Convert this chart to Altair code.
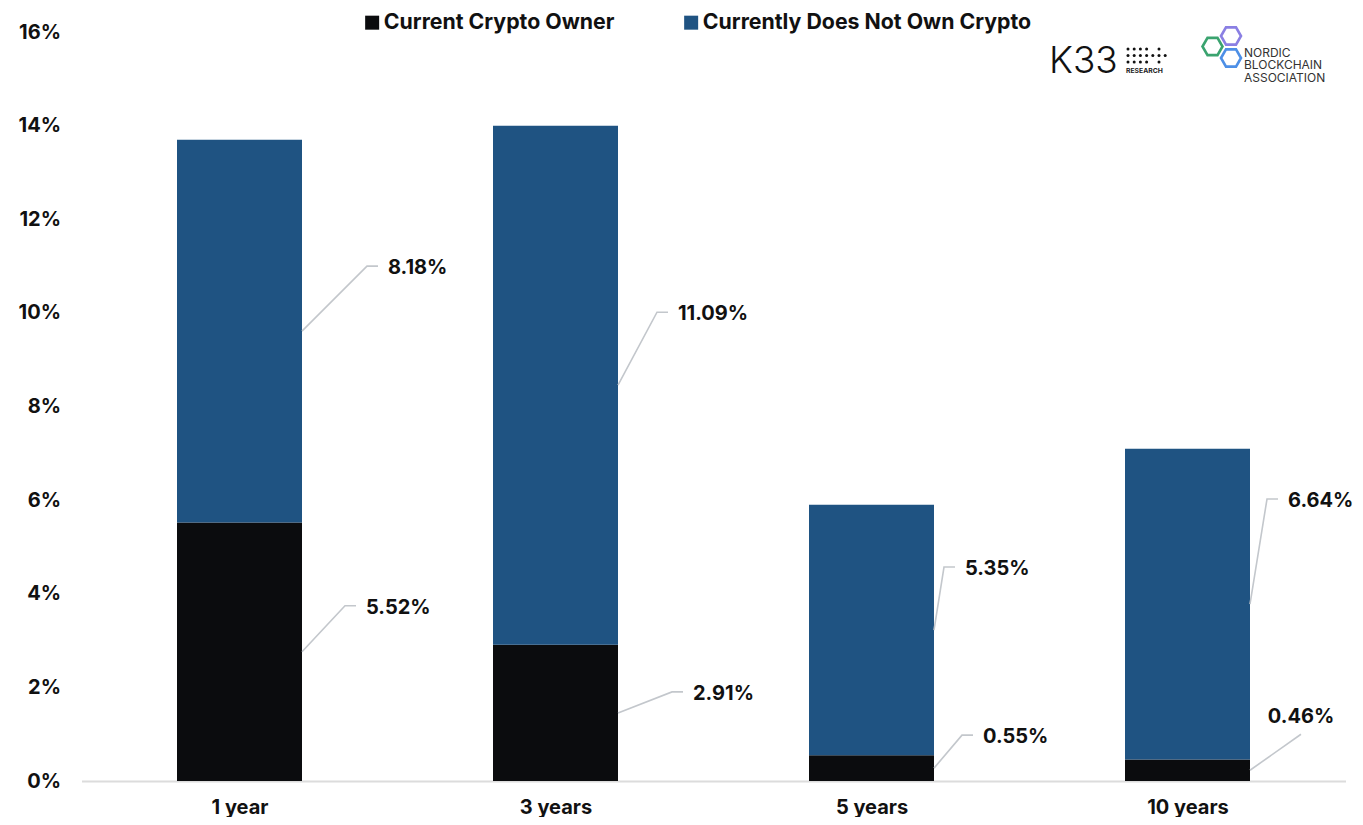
import json
import altair as alt
import pandas as pd

# ---------------- data ----------------
categories = ["1 year", "3 years", "5 years", "10 years"]
series_names = ["Current Crypto Owner", "Currently Does Not Own Crypto"]
owner = [5.52, 2.91, 0.55, 0.46]
non_owner = [8.18, 11.09, 5.35, 6.64]
y_ticks = [0, 2, 4, 6, 8, 10, 12, 14, 16]

# ---------------- style ----------------
W, H = 1264, 749
Y_MAX = 16
PX_X = W / len(categories)      # px per category index unit
PX_Y = H / Y_MAX                # px per percent
BAR_PX = 125
HALF = BAR_PX / 2 / PX_X
FONT = "Inter"
TXT = "#111111"
BLACK = "#0b0c0e"
BLUE = "#1f5382"
LEADER = "#c3c7cc"
# leader elbow offsets (px, from bar's right edge at segment middle)
owner_elbow = [(43, -46), (54, -21), (28, -33), (51, -36)]
non_owner_elbow = [(65, -65), (39, -73), (10, -63), (17, -105)]
owner_label_above = [False, False, False, True]
HOOK = 11
GAP = 10

# ---------------- tables ----------------
bar_rows, line_rows, label_rows = [], [], []
for i, cat in enumerate(categories):
    segs = [
        (series_names[0], 0.0, owner[i], owner_elbow[i], owner_label_above[i]),
        (series_names[1], owner[i], owner[i] + non_owner[i], non_owner_elbow[i], False),
    ]
    for s, (name, y0, y1, (edx, edy), above) in enumerate(segs):
        bar_rows.append({"series": name, "order": s, "x0": i - HALF, "x1": i + HALF,
                         "y0": y0, "y1": y1})
        sid = f"{i}-{s}"
        mid = (y0 + y1) / 2
        xs = i + HALF
        ex = xs + edx / PX_X
        ey = mid - edy / PX_Y
        line_rows.append({"sid": sid, "k": 0, "x": xs, "y": mid})
        line_rows.append({"sid": sid, "k": 1, "x": ex, "y": ey})
        if above:
            label_rows.append({"x": ex, "y": ey + 17 / PX_Y, "text": f"{y1 - y0:.2f}%",
                               "align": "center"})
        else:
            hx = ex + HOOK / PX_X
            line_rows.append({"sid": sid, "k": 2, "x": hx, "y": ey})
            label_rows.append({"x": hx + GAP / PX_X, "y": ey - 2 / PX_Y,
                               "text": f"{y1 - y0:.2f}%", "align": "left"})

bars_df = pd.DataFrame(bar_rows)
lines_df = pd.DataFrame(line_rows)
labels_df = pd.DataFrame(label_rows)

x_label_expr = json.dumps(categories) + "[datum.value]"

x_scale = alt.Scale(domain=[-0.5, len(categories) - 0.5], nice=False, zero=False)
y_scale = alt.Scale(domain=[0, Y_MAX], nice=False)

bars = alt.Chart(bars_df).mark_bar().encode(
    x=alt.X("x0:Q", scale=x_scale, title=None,
            axis=alt.Axis(values=list(range(len(categories))), labelExpr=x_label_expr,
                          ticks=False, grid=False, domainColor="#dcdcdc", domainWidth=2,
                          labelFont=FONT, labelFontSize=20, labelFontWeight="bold",
                          labelColor=TXT, labelPadding=16, labelFlush=False,
                          labelOverlap=False)),
    x2="x1:Q",
    y=alt.Y("y0:Q", scale=y_scale, title=None,
            axis=alt.Axis(values=y_ticks, labelExpr="datum.value + '%'", domain=False,
                          ticks=False, grid=False, labelFont=FONT, labelFontSize=20,
                          labelFontWeight="bold", labelColor=TXT, labelPadding=21)),
    y2="y1:Q",
    color=alt.Color("series:N", scale=alt.Scale(domain=series_names, range=[BLACK, BLUE]),
                    legend=alt.Legend(orient="none", legendX=280, legendY=-20,
                                      direction="horizontal", title=None,
                                      symbolType="square", symbolSize=196,
                                      symbolStrokeWidth=0, labelFont=FONT,
                                      labelFontSize=21.3, labelFontWeight="bold",
                                      labelColor=TXT, labelOffset=1, columnPadding=66,
                                      labelLimit=400)),
)

leaders = alt.Chart(lines_df).mark_line(color=LEADER, strokeWidth=1.6).encode(
    x=alt.X("x:Q", scale=x_scale),
    y=alt.Y("y:Q", scale=y_scale),
    detail="sid:N",
    order="k:Q",
)


def label_layer(al):
    return alt.Chart(labels_df[labels_df["align"] == al]).mark_text(
        font=FONT, fontSize=20, fontWeight="bold", color=TXT, baseline="middle",
        align=al).encode(
        x=alt.X("x:Q", scale=x_scale),
        y=alt.Y("y:Q", scale=y_scale),
        text="text:N",
    )


labels_left = label_layer("left")
labels_center = label_layer("center")

# ---------------- logos (decorative, pixel positioned) ----------------
one = pd.DataFrame({"a": [0]})
ox, oy = 81.5, 32  # plot origin on page


def deco_text(txt, px, py, size, weight="normal", color="#111", align="left"):
    return alt.Chart(one).mark_text(text=txt, font=FONT, fontSize=size, fontWeight=weight,
                                    color=color, align=align,
                                    baseline="alphabetic").encode(
        x=alt.value(px - ox), y=alt.value(py - oy))


k33 = deco_text("K33", 1049, 73, 37, weight=300, color="#111")
research = deco_text("RESEARCH", 1126, 73, 6.8, weight="bold", color="#222")

dot_x, dot_y = [], []
pattern = ["1111010", "1111111", "1111010"]
for r, row in enumerate(pattern):
    for c, on in enumerate(row):
        if on == "1":
            dot_x.append(1128 + c * 6.2 - ox)
            dot_y.append(49 + r * 6.5 - oy)
dots = alt.Chart(pd.DataFrame({"px": dot_x, "py": dot_y})).mark_circle(
    size=9, color="#111", opacity=1).encode(
    x=alt.X("px:Q", scale=None, axis=None), y=alt.Y("py:Q", scale=None, axis=None))

HEX = "M -1 0 L -0.5 -0.866 L 0.5 -0.866 L 1 0 L 0.5 0.866 L -0.5 0.866 Z"
hex_df = pd.DataFrame({"px": [1212.5 - ox, 1231 - ox, 1231 - ox],
                       "py": [46.5 - oy, 36 - oy, 58 - oy],
                       "c": ["#3aa36f", "#8a7fe3", "#4d8fe6"]})
hexes = alt.Chart(hex_df).mark_point(shape=HEX, size=400, filled=False,
                                     strokeWidth=2.6, opacity=1).encode(
    x=alt.X("px:Q", scale=None, axis=None), y=alt.Y("py:Q", scale=None, axis=None),
    stroke=alt.Color("c:N", scale=None, legend=None))

nba1 = deco_text("NORDIC", 1244, 56.5, 12, color="#333")
nba2 = deco_text("BLOCKCHAIN", 1244, 69, 12, color="#333")
nba3 = deco_text("ASSOCIATION", 1244, 81.5, 12, color="#333")

chart = alt.layer(bars, leaders, labels_left, labels_center, k33, research, dots, hexes,
                  nba1, nba2, nba3).properties(
    width=W, height=H,
    autosize=alt.AutoSizeParams(type="none"),
    padding={"left": 73.5, "top": 24, "right": 9, "bottom": 36},
    background="white",
).configure_view(stroke=None)

chart.save("out.html", embed_options={"renderer": "svg", "actions": False})
